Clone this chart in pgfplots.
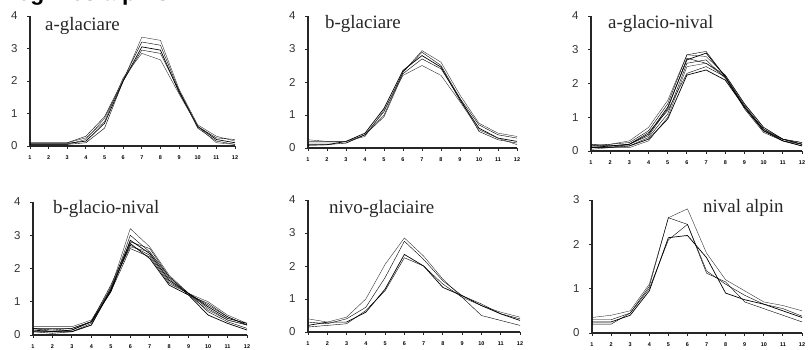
\documentclass[border=0pt]{standalone}
\usepackage{pgfplots}
\usepackage{pgfplotstable}
\pgfplotsset{compat=1.18}
\usepackage{fontspec}
\setmainfont{Liberation Sans}
\newfontfamily\serif{Liberation Serif}

\pgfplotstableread{
m s1 s2 s3 s4 s5
1 0.05 0.10 0.08 0.05 0.10
2 0.05 0.10 0.08 0.05 0.10
3 0.05 0.10 0.08 0.05 0.10
4 0.20 0.30 0.15 0.10 0.25
5 0.85 0.90 0.70 0.55 0.75
6 2.00 2.05 2.00 2.00 2.10
7 3.35 3.20 3.05 2.95 2.85
8 3.25 3.10 2.95 2.85 2.65
9 1.75 1.70 1.65 1.70 1.60
10 0.65 0.60 0.60 0.55 0.60
11 0.30 0.25 0.20 0.15 0.10
12 0.15 0.20 0.10 0.05 0.05
}\tabA

\pgfplotstableread{
m s1 s2 s3 s4 s5
1 0.25 0.15 0.10 0.08 0.20
2 0.20 0.15 0.10 0.10 0.20
3 0.20 0.15 0.20 0.15 0.20
4 0.40 0.40 0.45 0.40 0.35
5 1.00 1.10 1.20 0.95 1.15
6 2.30 2.30 2.35 2.25 2.20
7 2.95 2.90 2.80 2.70 2.50
8 2.60 2.50 2.45 2.40 2.20
9 1.60 1.50 1.45 1.50 1.40
10 0.75 0.70 0.60 0.50 0.55
11 0.45 0.40 0.30 0.25 0.30
12 0.35 0.30 0.20 0.15 0.10
}\tabB

\pgfplotstableread{
m s1 s2 s3 s4 s5 s6 s7 s8
1 0.20 0.15 0.10 0.10 0.05 0.20 0.15 0.10
2 0.20 0.20 0.15 0.10 0.10 0.15 0.15 0.10
3 0.30 0.25 0.20 0.15 0.10 0.20 0.15 0.20
4 0.70 0.60 0.50 0.40 0.30 0.55 0.35 0.45
5 1.50 1.40 1.30 1.10 1.00 1.20 0.95 1.25
6 2.85 2.85 2.70 2.60 2.50 2.30 2.25 2.75
7 2.80 2.95 2.90 2.70 2.60 2.50 2.40 2.60
8 2.25 2.20 2.20 2.15 2.20 2.20 2.10 2.25
9 1.40 1.35 1.30 1.30 1.35 1.25 1.30 1.40
10 0.70 0.65 0.60 0.65 0.60 0.55 0.60 0.70
11 0.35 0.35 0.35 0.30 0.35 0.30 0.30 0.35
12 0.25 0.20 0.20 0.15 0.20 0.20 0.15 0.25
}\tabC

\pgfplotstableread{
m s1 s2 s3 s4 s5 s6 s7 s8
1 0.25 0.20 0.15 0.10 0.15 0.20 0.10 0.20
2 0.25 0.20 0.10 0.05 0.15 0.10 0.10 0.15
3 0.25 0.20 0.15 0.10 0.10 0.15 0.10 0.20
4 0.45 0.40 0.40 0.35 0.30 0.40 0.30 0.40
5 1.40 1.35 1.30 1.40 1.45 1.30 1.35 1.50
6 3.20 3.00 2.85 2.70 2.65 2.60 2.75 2.80
7 2.65 2.50 2.45 2.40 2.50 2.35 2.30 2.60
8 1.80 1.75 1.65 1.60 1.70 1.55 1.50 1.75
9 1.25 1.20 1.25 1.25 1.20 1.25 1.20 1.25
10 1.00 0.95 0.85 0.80 0.75 0.70 0.60 0.90
11 0.60 0.55 0.50 0.45 0.45 0.40 0.35 0.55
12 0.35 0.30 0.35 0.30 0.30 0.20 0.15 0.30
}\tabD

\pgfplotstableread{
m s1 s2 s3 s4
1 0.40 0.30 0.20 0.15
2 0.30 0.25 0.30 0.20
3 0.45 0.40 0.30 0.25
4 1.00 0.75 0.60 0.65
5 2.05 1.65 1.30 1.25
6 2.85 2.75 2.35 2.25
7 2.30 2.20 2.00 2.00
8 1.60 1.55 1.35 1.45
9 1.05 1.10 1.10 1.05
10 0.80 0.85 0.80 0.50
11 0.60 0.55 0.55 0.35
12 0.45 0.40 0.35 0.20
}\tabE

\pgfplotstableread{
m s1 s2 s3 s4
1 0.35 0.30 0.25 0.20
2 0.40 0.30 0.25 0.20
3 0.50 0.45 0.40 0.45
4 1.10 1.05 0.95 1.00
5 2.60 2.60 2.15 2.10
6 2.80 2.45 2.20 2.45
7 1.80 1.40 1.70 1.35
8 1.20 1.10 0.90 1.15
9 0.95 0.85 0.75 0.70
10 0.70 0.65 0.65 0.55
11 0.62 0.55 0.50 0.40
12 0.50 0.38 0.35 0.25
}\tabF

\pgfplotsset{
  panel/.style={
    scale only axis, anchor=south west,
    xmin=1, xmax=12, ymin=0, ymax=4,
    axis x line=bottom, axis y line=left,
    axis line style={-, line width=1.1bp, black!85},
    xtick={1,...,12}, ytick={0,1,2,3,4},
    tick align=outside, major tick length=3bp,
    tick style={black!85, line width=0.9bp},
    /pgf/number format/assume math mode=true,
    xticklabel style={font=\fontsize{5.5}{6}\selectfont\bfseries, yshift=-3bp},
    yticklabel style={font=\fontsize{11.5}{12}\selectfont, xshift=-6bp, text=black!80},
    cycle list={{black!80, solid, line width=0.7bp, mark=none}},
    clip=false,
  },
}
\tikzset{ptitle/.style={font=\serif\fontsize{19}{21}\selectfont, anchor=base west, inner sep=0pt, text=black!85}}

\begin{document}
\begin{tikzpicture}[x=1bp, y=1bp]
\begin{axis}[panel, at={(30bp,203bp)}, width=205bp, height=130bp]
\pgfplotsinvokeforeach{1,...,5}{\addplot table[x=m, y=s#1]{\tabA};}
\end{axis}
\begin{axis}[panel, at={(308bp,201bp)}, width=209bp, height=132bp]
\pgfplotsinvokeforeach{1,...,5}{\addplot table[x=m, y=s#1]{\tabB};}
\end{axis}
\begin{axis}[panel, at={(591bp,198bp)}, width=211bp, height=135bp]
\pgfplotsinvokeforeach{1,...,8}{\addplot table[x=m, y=s#1]{\tabC};}
\end{axis}
\begin{axis}[panel, at={(33bp,14bp)}, width=214bp, height=133bp]
\pgfplotsinvokeforeach{1,...,8}{\addplot table[x=m, y=s#1]{\tabD};}
\end{axis}
\begin{axis}[panel, at={(308bp,17bp)}, width=212bp, height=132bp]
\pgfplotsinvokeforeach{1,...,4}{\addplot table[x=m, y=s#1]{\tabE};}
\end{axis}
\begin{axis}[panel, at={(592bp,16bp)}, width=210bp, height=133bp, ymax=3, ytick={0,1,2,3}]
\pgfplotsinvokeforeach{1,...,4}{\addplot table[x=m, y=s#1]{\tabF};}
\end{axis}

\node[ptitle] at (45,319) {a-glaciare};
\node[ptitle] at (325,321) {b-glaciare};
\node[ptitle] at (608,321) {a-glacio-nival};
\node[ptitle] at (53,136) {b-glacio-nival};
\node[ptitle] at (329,136) {nivo-glaciaire};
\node[ptitle] at (703,137) {nival alpin};
\node[anchor=base west, inner sep=0pt, font=\bfseries\fontsize{23}{25}\selectfont] at (1,348.5) {Régimes alpins};

\pgfresetboundingbox
\path[use as bounding box] (0,0) rectangle (810,349);
\end{tikzpicture}
\end{document}
